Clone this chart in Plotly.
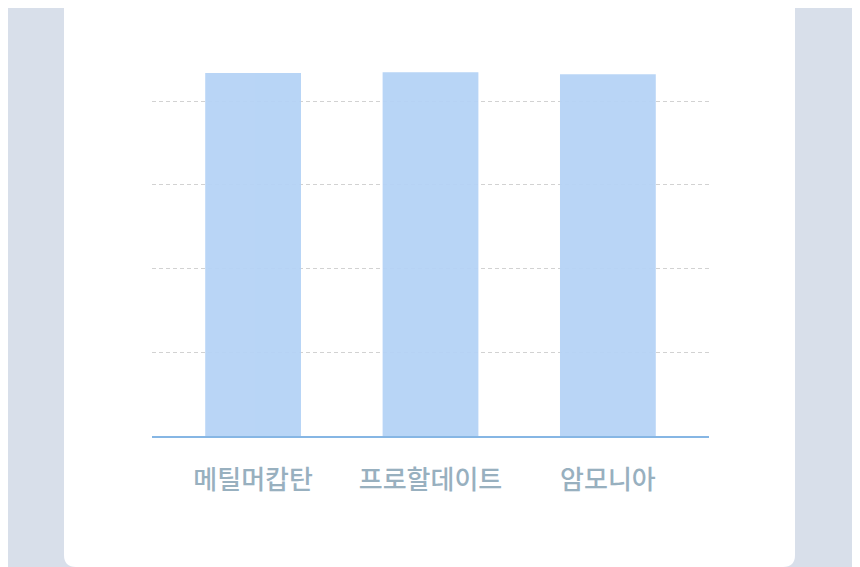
import plotly.graph_objects as go

# data
categories = ["메틸머캅탄", "프로할데이트", "암모니아"]
values = [86.7, 86.9, 86.4]
grid_ticks = [0, 20, 40, 60, 80]

# the page puts the figure 8px in from the top-left corner
W, H = 852, 559
L, R, T, B = 144, 151, 32, 131
plot_w = W - L - R
plot_h = H - T - B
y_max = 94.6
OFF = 8


def px_x(px):
    return (px - OFF - L) / plot_w


def px_y(py):
    return (H - B - (py - OFF)) / plot_h


# white card with rounded bottom corners, in paper units
cx0, cx1, cy0, cy1, rad = 64, 795, -20, 567, 12
rx = rad / plot_w
ry = rad / plot_h
card_path = (
    f"M {px_x(cx0)},{px_y(cy0)} L {px_x(cx1)},{px_y(cy0)} "
    f"L {px_x(cx1)},{px_y(cy1) + ry} Q {px_x(cx1)},{px_y(cy1)} {px_x(cx1) - rx},{px_y(cy1)} "
    f"L {px_x(cx0) + rx},{px_y(cy1)} Q {px_x(cx0)},{px_y(cy1)} {px_x(cx0)},{px_y(cy1) + ry} Z"
)

fig = go.Figure()
fig.add_trace(go.Bar(
    x=categories,
    y=values,
    marker=dict(color="#b5d3f6", line=dict(width=0)),
    opacity=0.95,
    hoverinfo="x+y",
))

fig.update_layout(
    width=W,
    height=H,
    margin=dict(l=L, r=R, t=T, b=B, pad=0),
    paper_bgcolor="#d8dfea",
    plot_bgcolor="rgba(0,0,0,0)",
    bargap=0.46,
    showlegend=False,
    font=dict(family="Noto Sans CJK KR, Noto Sans, sans-serif"),
    shapes=[dict(
        type="path",
        xref="paper",
        yref="paper",
        path=card_path,
        fillcolor="white",
        line=dict(width=0),
        layer="below",
    )],
)

fig.update_xaxes(
    range=[-0.57, 2.57],
    showgrid=False,
    showline=True,
    linecolor="#86b6e4",
    linewidth=1.5,
    ticks="",
    ticklabelstandoff=20,
    tickfont=dict(size=26, color="#98b0bf", weight=500),
)
fig.update_yaxes(
    range=[0, y_max],
    tickvals=grid_ticks,
    showticklabels=False,
    showgrid=True,
    gridcolor="#d2d2d2",
    gridwidth=1,
    griddash="4px,3px",
    zeroline=False,
    showline=False,
)

fig.write_html("out.html")
